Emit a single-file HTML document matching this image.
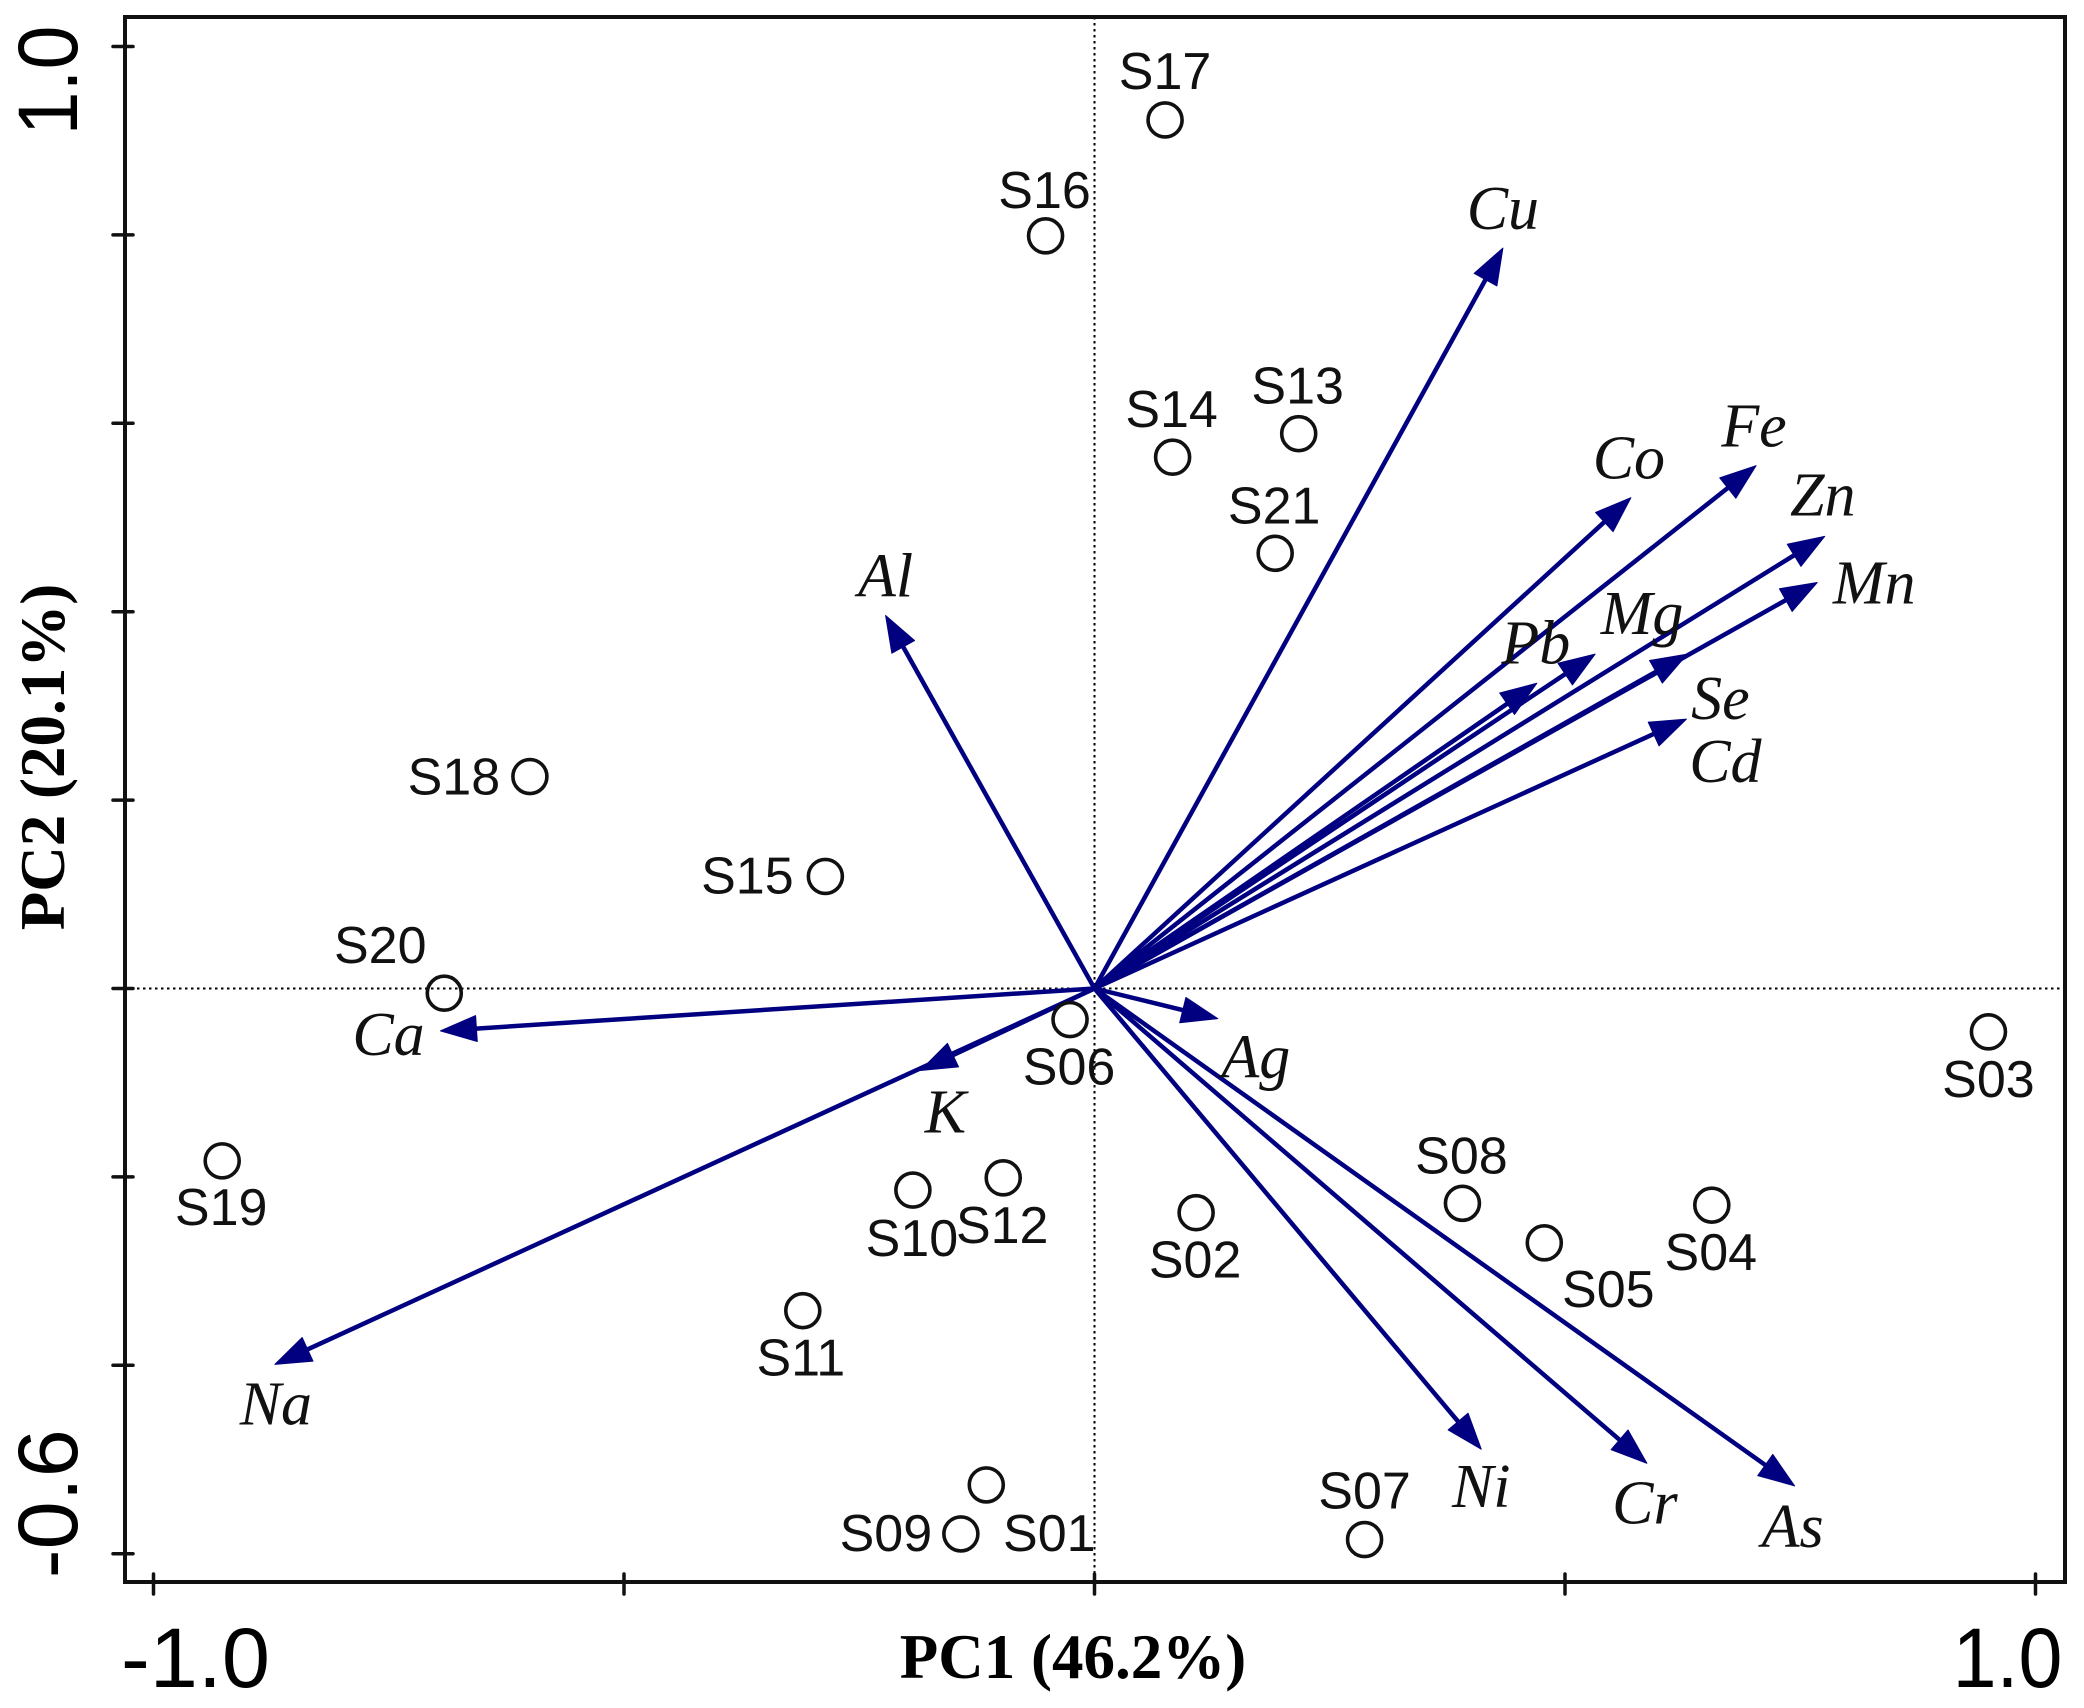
<!DOCTYPE html>
<html lang="en">
<head>
<meta charset="utf-8">
<title>PCA biplot</title>
<style>
html,body{margin:0;padding:0;background:#fff;width:2084px;height:1708px;overflow:hidden}
svg{display:block}
.sample-label{font-family:"Liberation Sans",sans-serif;font-size:52px;fill:#111}
.element-label{font-family:"Liberation Serif",serif;font-style:italic;font-size:62px;fill:#111}
.tick-label{font-family:"Liberation Sans",sans-serif;font-size:84px;fill:#000}
.axis-title{font-family:"Liberation Serif",serif;font-weight:bold;font-size:63px;fill:#000}
</style>
</head>
<body>
<svg id="chart" xmlns="http://www.w3.org/2000/svg" width="2084" height="1708" viewBox="0 0 2084 1708">
<rect width="2084" height="1708" fill="#fff"/>
</svg>
<script>
// ---- data ----
const sampleNames = ["S01","S02","S03","S04","S05","S06","S07","S08","S09","S10","S11","S12","S13","S14","S15","S16","S17","S18","S19","S20","S21"];
const samplePC1 = [-0.115,0.108,0.950,0.656,0.478,-0.026,0.287,0.391,-0.142,-0.193,-0.310,-0.097,0.217,0.083,-0.286,-0.052,0.075,-0.600,-0.927,-0.691,0.192];
const samplePC2 = [-0.527,-0.238,-0.046,-0.230,-0.270,-0.033,-0.585,-0.228,-0.579,-0.214,-0.342,-0.201,0.589,0.564,0.119,0.799,0.922,0.225,-0.183,-0.005,0.462];
const elementNames = ["Cu","Fe","Co","Zn","Mn","Mg","Pb","Se","Cd","Al","Ca","K","Na","Ag","Ni","Cr","As"];
const elementPC1 = [0.434,0.703,0.570,0.776,0.768,0.532,0.470,0.630,0.629,-0.222,-0.695,-0.185,-0.871,0.131,0.411,0.587,0.744];
const elementPC2 = [0.786,0.555,0.521,0.480,0.431,0.355,0.324,0.355,0.286,0.396,-0.045,-0.087,-0.399,-0.032,-0.489,-0.504,-0.528];
const xTicks = [-1,-0.5,0,0.5,1];
const yTicks = [-0.6,-0.4,-0.2,0,0.2,0.4,0.6,0.8,1];
const xTickLabels = ["-1.0","1.0"];
const xTickLabelValues = [-1,1];
const yTickLabels = ["-0.6","1.0"];
const yTickLabelValues = [-0.6,1];
const xTitle = "PC1 (46.2%)";
const yTitle = "PC2 (20.1%)";

// ---- layout (label nudges relative to their marks, in px) ----
const sampleLabelDx = [63,-1,0,-1,64,-1,0,-1,-75,-1,-2,-1,-1,-1,-78,-1,0,-76,-1,-64,-1];
const sampleLabelDy = [49,48,48,48,47,48,-48,-47,0,49,48,48,-47,-47,0,-45,-48,1,47,-47,-47];
const elementLabelDx = [0,-2,-2,-2,57,47,-1,33,39,0,-52,25,1,38,0,-2,-2];
const elementLabelDy = [-39,-39,-39,-41,1,-40,-40,45,43,-39,4,42,40,39,38,40,41];

// ---- axes ----
const frame = {left:125, top:17, right:2065, bottom:1582};
const zeroX = 1094.5, unitX = 941, zeroY = 988.5, unitY = 942;
function sx(v){ return zeroX + unitX * v; }
function sy(v){ return zeroY - unitY * v; }

const svg = document.getElementById('chart');
const NS = 'http://www.w3.org/2000/svg';
function make(tag, attrs, parent){
  const el = document.createElementNS(NS, tag);
  for (const k in attrs) el.setAttribute(k, attrs[k]);
  (parent || svg).appendChild(el);
  return el;
}

// zero reference lines
const zeroV = make('line',{x1:sx(0),x2:sx(0),y1:frame.top,y2:frame.bottom,stroke:'#000','stroke-width':2,'stroke-dasharray':'2.5 3.5'});


const zeroH = make('line',{x1:frame.left,x2:frame.right,y1:sy(0),y2:sy(0),stroke:'#000','stroke-width':2,'stroke-dasharray':'2.5 3.5'});



// ticks
xTicks.forEach(function(t){
  const tick = make('line',{x1:sx(t),x2:sx(t),y1:frame.bottom-8,y2:frame.bottom+12,stroke:'#111','stroke-width':3.5,'stroke-linecap':'round'});
  
  
});
yTicks.forEach(function(t){
  const tick = make('line',{x1:frame.left-12,x2:frame.left+8,y1:sy(t),y2:sy(t),stroke:'#111','stroke-width':3.5,'stroke-linecap':'round'});
  
  
});

// frame
const box = make('rect',{x:frame.left,y:frame.top,width:frame.right-frame.left,height:frame.bottom-frame.top,fill:'none',stroke:'#111','stroke-width':4});



// tick labels
xTickLabelValues.forEach(function(v,i){
  const nudge = v < 0 ? 42 : -28;
  const widen = v < 0 ? 1.03 : 0.94;
  const lbl = make('text',{x:0,y:0,'class':'tick-label','text-anchor':'middle',transform:'translate('+(sx(v)+nudge)+',1687) scale('+widen+',1)'});
  lbl.textContent = xTickLabels[i];
  
  
});
yTickLabelValues.forEach(function(v,i){
  const nudge = v < 0 ? -50 : 34;
  const widen = v < 0 ? 1.03 : 0.94;
  const lbl = make('text',{x:0,y:0,'class':'tick-label','text-anchor':'middle',transform:'translate(77,'+(sy(v)+nudge)+') rotate(-90) scale('+widen+',1)'});
  lbl.textContent = yTickLabels[i];
  
  
});

// axis titles
const xt = make('text',{x:1073,y:1678,'class':'axis-title','text-anchor':'middle'});
xt.textContent = xTitle;


const yt = make('text',{x:0,y:0,'class':'axis-title','text-anchor':'middle',transform:'translate(64,757) rotate(-90)'});
yt.textContent = yTitle;



// loading arrows
const HEAD_LEN = 36, HEAD_HALF = 13;
elementNames.forEach(function(name,i){
  const tx = sx(elementPC1[i]), ty = sy(elementPC2[i]);
  const ox = sx(0), oy = sy(0);
  const len = Math.hypot(tx-ox, ty-oy);
  const ux = (tx-ox)/len, uy = (ty-oy)/len;
  const bx = tx-ux*HEAD_LEN, by = ty-uy*HEAD_LEN;
  const g = make('g',{});
  
  
  make('line',{x1:ox,y1:oy,x2:bx+ux*4,y2:by+uy*4,stroke:'#000080','stroke-width':4.5},g);
  make('polygon',{points:tx+','+ty+' '+(bx-uy*HEAD_HALF)+','+(by+ux*HEAD_HALF)+' '+(bx+uy*HEAD_HALF)+','+(by-ux*HEAD_HALF),fill:'#000080',stroke:'#000080','stroke-width':1,'stroke-linejoin':'round'},g);
});

// sample points
sampleNames.forEach(function(name,i){
  const cx = sx(samplePC1[i]), cy = sy(samplePC2[i]);
  const c = make('circle',{cx:cx,cy:cy,r:17,fill:'none',stroke:'#111','stroke-width':3.6});
  
  
});

// element labels
elementNames.forEach(function(name,i){
  const t = make('text',{x:sx(elementPC1[i])+elementLabelDx[i],y:sy(elementPC2[i])+elementLabelDy[i],'class':'element-label','text-anchor':'middle','dominant-baseline':'central'});
  t.textContent = name;
  
  
});

// sample labels
sampleNames.forEach(function(name,i){
  const t = make('text',{x:sx(samplePC1[i])+sampleLabelDx[i],y:sy(samplePC2[i])+sampleLabelDy[i],'class':'sample-label','text-anchor':'middle','dominant-baseline':'central'});
  t.textContent = name;
  
  
});
</script>
</body>
</html>
